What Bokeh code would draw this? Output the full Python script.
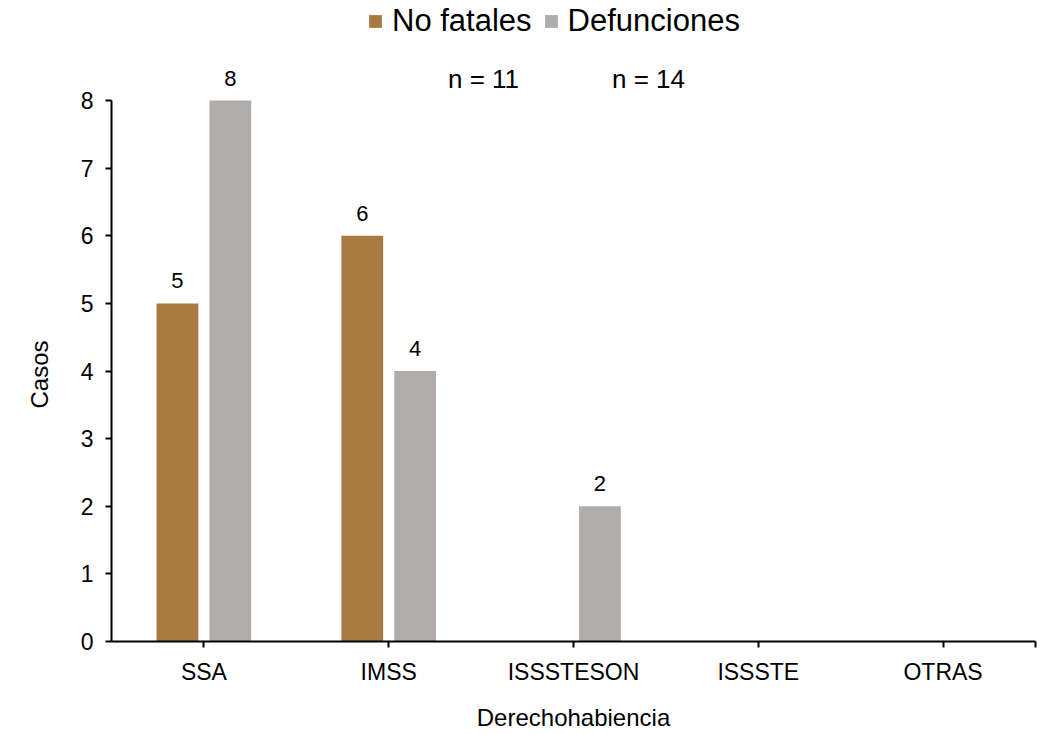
from bokeh.plotting import figure
from bokeh.models import (ColumnDataSource, Range1d, FixedTicker, LabelSet, Label,
                          Legend, LegendItem, Title)
from bokeh.core.properties import value
from bokeh.transform import dodge
from bokeh.embed import file_html
from bokeh.resources import INLINE

categories = ["SSA", "IMSS", "ISSSTESON", "ISSSTE", "OTRAS"]
no_fatales = [5, 6, 0, 0, 0]
defunciones = [8, 4, 2, 0, 0]
series_names = ["No fatales", "Defunciones"]
n_labels = ["n = 11", "n = 14"]
y_ticks = [0, 1, 2, 3, 4, 5, 6, 7, 8]

colors = ["#A97942", "#AFACAB"]
FONT = "Liberation Sans"

xc = [i + 0.5 for i in range(len(categories))]
src = ColumnDataSource(dict(x=xc, nf=no_fatales, df=defunciones))

# frame reaches the top edge so labels/legend above value 8 are not clipped
p = figure(width=1048, height=734, output_backend="svg", toolbar_location=None,
           x_range=Range1d(0, len(categories)), y_range=Range1d(0, 9.479),
           min_border_left=111, min_border_right=13, min_border_top=0,
           min_border_bottom=93)
p.outline_line_color = None
p.xgrid.visible = False
p.ygrid.visible = False
p.background_fill_color = "white"
p.border_fill_color = "white"

off = 0.143
w = 0.226
r1 = p.vbar(x=dodge("x", -off, range=p.x_range), top="nf", width=w, source=src,
            fill_color=colors[0], line_color=None)
r2 = p.vbar(x=dodge("x", off, range=p.x_range), top="df", width=w, source=src,
            fill_color=colors[1], line_color=None)

# value labels (non-zero only)
lx, ly, lt = [], [], []
for i, v in enumerate(no_fatales):
    if v:
        lx.append(xc[i] - off); ly.append(v); lt.append(str(v))
for i, v in enumerate(defunciones):
    if v:
        lx.append(xc[i] + off); ly.append(v); lt.append(str(v))
lsrc = ColumnDataSource(dict(x=lx, y=ly, t=lt))
p.add_layout(LabelSet(x="x", y="y", text="t", source=lsrc, y_offset=15,
                      text_align="center", text_baseline="bottom",
                      text_font=value(FONT), text_font_size="22px",
                      text_color="#000000"))

# axes
ticks_x = xc + [len(categories)]
p.xaxis.ticker = FixedTicker(ticks=ticks_x)
overrides = {x: c for x, c in zip(xc, categories)}
overrides[len(categories)] = ""
p.xaxis.major_label_overrides = overrides
p.yaxis.ticker = FixedTicker(ticks=y_ticks)
p.yaxis.bounds = (0, 8)

for ax in (p.xaxis[0], p.yaxis[0]):
    ax.axis_line_color = "black"
    ax.axis_line_width = 2
    ax.major_tick_line_color = "black"
    ax.major_tick_line_width = 2
    ax.major_tick_out = 6
    ax.major_tick_in = 0
    ax.minor_tick_line_color = None
    ax.major_label_text_font = FONT
    ax.major_label_text_font_size = "23px"
    ax.major_label_text_color = "#000000"
    ax.axis_label_text_font = FONT
    ax.axis_label_text_font_size = "24px"
    ax.axis_label_text_font_style = "normal"
    ax.axis_label_text_color = "#000000"

p.xaxis.axis_label = "Derechohabiencia"
p.xaxis.major_label_standoff = 11
p.xaxis.axis_label_standoff = 16
p.yaxis.major_label_standoff = 12

# y-axis title placed along the 0..8 part of the axis (frame is taller)
ytitle = Title(text="Casos", align="left", offset=233, standoff=46,
               vertical_align="top",
               text_font=FONT, text_font_size="24px", text_font_style="normal",
               text_color="#000000")
p.add_layout(ytitle, "left")

# legend at the top
legend = Legend(items=[LegendItem(label=series_names[0], renderers=[r1]),
                       LegendItem(label=series_names[1], renderers=[r2])],
                orientation="horizontal", location=(256, 602),
                label_text_font=FONT, label_text_font_size="31px",
                label_text_color="#000000", glyph_width=16, glyph_height=16,
                label_standoff=9, spacing=11, padding=0, margin=0,
                border_line_color=None, background_fill_alpha=0)
p.add_layout(legend, "center")

# sample sizes
p.add_layout(Label(x=2.013, y=8.325, text=n_labels[0], text_align="center",
                   text_baseline="alphabetic", text_font=FONT,
                   text_font_size="26px", text_color="#000000"))
p.add_layout(Label(x=2.906, y=8.325, text=n_labels[1], text_align="center",
                   text_baseline="alphabetic", text_font=FONT,
                   text_font_size="26px", text_color="#000000"))

open("out.html", "w").write(file_html(p, INLINE))
